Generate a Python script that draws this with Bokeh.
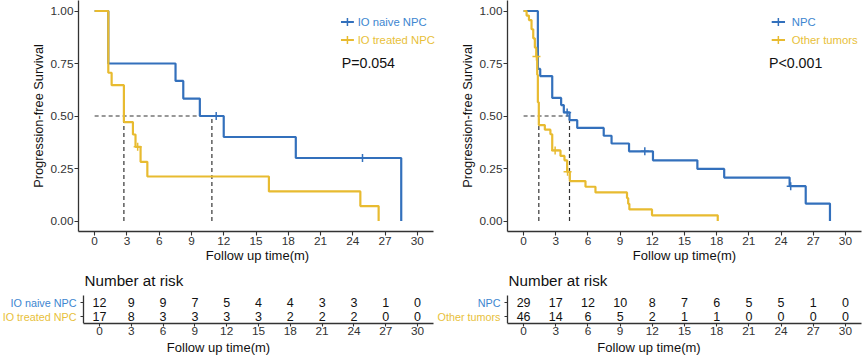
from bokeh.plotting import figure
from bokeh.layouts import row, column
from bokeh.models import FixedTicker, NumeralTickFormatter, Title
from bokeh.embed import file_html
from bokeh.resources import INLINE
from bokeh.core.properties import value

FONT = "Liberation Sans"
BLUE = "#3370BC"
YELLOW = "#E8BB30"
BLUE_TXT = "#3D86D0"
YEL_TXT = "#E8BF3A"
DARK = "#333333"

# ---------------- data ----------------
x_ticks = [0, 3, 6, 9, 12, 15, 18, 21, 24, 27, 30]
y_ticks = [0, 0.25, 0.5, 0.75, 1.0]

# Left panel
naive_label = "IO naive NPC"
naive_t = [0, 1.27, 7.52, 8.24, 9.78, 12.0, 18.7, 28.5]
naive_s = [1.0, 0.75, 0.667, 0.583, 0.5, 0.4, 0.3, 0.0]
naive_cens_t = [11.3, 24.9]
naive_cens_s = [0.5, 0.3]

treated_label = "IO treated NPC"
treated_t = [0, 1.27, 1.58, 2.72, 3.56, 3.80, 4.27, 4.90, 16.2, 24.7, 26.4]
treated_s = [1.0, 0.706, 0.647, 0.471, 0.412, 0.353, 0.282, 0.212, 0.141, 0.071, 0.0]
treated_cens_t = [4.0]
treated_cens_s = [0.353]

left_medians = [2.72, 10.9]
left_p = "P=0.054"
naive_risk = [12, 9, 9, 7, 5, 4, 4, 3, 3, 1, 0]
treated_risk = [17, 8, 3, 3, 3, 3, 2, 2, 2, 0, 0]

# Right panel
npc_label = "NPC"
npc_t = [0, 1.33, 1.55, 2.67, 3.5, 3.75, 4.28, 5.0, 7.47, 8.2, 9.83, 12.06, 16.2, 18.7, 24.8, 26.3, 28.56]
npc_s = [1.0, 0.724, 0.690, 0.586, 0.552, 0.517, 0.480, 0.443, 0.406, 0.369, 0.332, 0.289, 0.248, 0.207, 0.166, 0.083, 0.0]
npc_cens_t = [4.06, 11.3, 24.9]
npc_cens_s = [0.517, 0.332, 0.166]

other_label = "Other tumors"
other_t = [0, 0.28, 0.5, 0.74, 0.9, 1.05, 1.18, 1.27, 1.33, 1.42, 1.98, 2.5, 2.67, 3.44, 3.81, 4.06, 4.31, 5.77, 6.7, 9.64, 9.75, 9.86, 11.97, 18.1]
other_s = [1.0, 0.978, 0.957, 0.913, 0.870, 0.826, 0.783, 0.696, 0.565, 0.457, 0.435, 0.413, 0.336, 0.310, 0.289, 0.234, 0.190, 0.163, 0.136, 0.109, 0.082, 0.055, 0.027, 0.0]
other_cens_t = [1.2, 2.94, 4.1]
other_cens_s = [0.783, 0.336, 0.234]

right_medians = [1.42, 4.28]
right_p = "P<0.001"
npc_risk = [29, 17, 12, 10, 8, 7, 6, 5, 5, 1, 0]
other_risk = [46, 14, 6, 5, 2, 1, 1, 0, 0, 0, 0]

XLAB = "Follow up time(m)"
YLAB = "Progression-free Survival"
RISK_TITLE = "Number at risk"

XLO, XHI = -1.5, 31.5   # axis extent (ggplot expansion)


def style_axis(ax, tick_out, lab_standoff, ax_standoff):
    ax.axis_line_color = DARK
    ax.axis_line_width = 1.3
    ax.major_tick_line_color = DARK
    ax.major_tick_line_width = 1.1
    ax.major_tick_out = tick_out
    ax.major_tick_in = 0
    ax.minor_tick_line_color = None
    ax.major_label_text_font = FONT
    ax.major_label_text_font_size = "11.8px"
    ax.major_label_text_color = DARK
    ax.major_label_standoff = lab_standoff
    ax.axis_label_text_font = FONT
    ax.axis_label_text_font_style = "normal"
    ax.axis_label_text_font_size = "13px"
    ax.axis_label_text_color = "#111111"
    ax.axis_label_standoff = ax_standoff


def clean(p):
    p.xgrid.visible = False
    p.ygrid.visible = False
    p.outline_line_color = None
    p.background_fill_color = "white"
    p.border_fill_color = "white"
    if "frame_align" in p.properties():
        p.frame_align = False


def km_fig(width, bl, br, axis_right_px, curves, medians, ptext, leg_x0, leg_x1, txt_x, p_x):
    # frame spans [bl, width-br]; the axis ends at axis_right_px (inside the frame)
    scale = (axis_right_px - bl) / (XHI - XLO)
    x_end = XHI + (width - br - axis_right_px) / scale
    p = figure(width=width, height=266, x_range=(XLO, x_end), y_range=(-0.05, 1.05),
               output_backend="svg", toolbar_location=None,
               min_border_left=bl, min_border_right=br, min_border_top=0, min_border_bottom=35)
    clean(p)
    style_axis(p.xaxis[0], 4, 1, 0)
    style_axis(p.yaxis[0], 4, 1, 2)
    p.xaxis.bounds = (XLO, XHI)
    p.xaxis.ticker = FixedTicker(ticks=x_ticks)
    p.yaxis.ticker = FixedTicker(ticks=y_ticks)
    p.yaxis.formatter = NumeralTickFormatter(format="0.00")
    p.yaxis.axis_label_text_font_size = "12.8px"
    p.xaxis.axis_label = XLAB
    p.yaxis.axis_label = YLAB

    # median lines
    p.line(x=[0, max(medians)], y=[0.5, 0.5], line_color=DARK, line_dash="4 3", line_width=1.2)
    p.segment(x0=medians, y0=[0] * len(medians), x1=medians, y1=[0.5] * len(medians),
              line_color=DARK, line_dash="4 3", line_width=1.2)

    leg_y = [0.948, 0.862]
    for i, (t, s, ct, cs, col, tcol, lab) in enumerate(curves):
        p.step(x=t, y=s, mode="after", line_color=col, line_width=2.2)
        p.scatter(x=ct, y=cs, marker="cross", size=8, line_color=col, line_width=1.5)
        p.line(x=[leg_x0, leg_x1], y=[leg_y[i]] * 2, line_color=col, line_width=2)
        p.scatter(x=[(leg_x0 + leg_x1) / 2], y=[leg_y[i]], marker="cross", size=8,
                  line_color=col, line_width=1.5)
        p.text(x=[txt_x], y=[leg_y[i]], text=[lab], text_color=tcol, text_font=value(FONT),
               text_font_size="11.3px", text_align="left", text_baseline="middle")
    p.text(x=[p_x], y=[0.754], text=[ptext], text_color="#111111", text_font=value(FONT),
           text_font_size="14.2px", text_align="left", text_baseline="middle")
    return p


def risk_fig(width, br, axis_left_px, axis_right_px, rows):
    # frame spans [0, width-br] horizontally and [0, 57] vertically (top of figure to axis)
    H, frame_h = 90, 57
    scale = (axis_right_px - axis_left_px) / (XHI - XLO)
    x_start = XLO - axis_left_px / scale
    x_end = XHI + (width - br - axis_right_px) / scale
    row_px = 14.0                      # pixels between the two rows
    y_lo = 0.5
    y_hi = y_lo + frame_h / row_px
    r = figure(width=width, height=H, x_range=(x_start, x_end), y_range=(y_lo, y_hi),
               output_backend="svg", toolbar_location=None, y_axis_location=None,
               min_border_left=0, min_border_right=br, min_border_top=0, min_border_bottom=H - frame_h)
    clean(r)
    style_axis(r.xaxis[0], 3, 0, 0)
    r.xaxis.bounds = (XLO, XHI)
    r.xaxis.ticker = FixedTicker(ticks=x_ticks)

    # axis title centred under the axis (not under the wider frame)
    frame_mid = (width - br) / 2
    axis_mid = (axis_left_px + axis_right_px) / 2
    r.add_layout(Title(text=XLAB, align="center", offset=axis_mid - frame_mid, standoff=0,
                       text_font=FONT, text_font_size="13px", text_font_style="normal",
                       text_color="#111111"), "below")

    # y axis line and ticks of the table
    r.segment(x0=[XLO], y0=[0.5], x1=[XLO], y1=[2.5], line_color=DARK, line_width=1.3)
    tick_len = 3 / scale
    r.segment(x0=[XLO - tick_len] * 2, y0=[1, 2], x1=[XLO] * 2, y1=[1, 2],
              line_color=DARK, line_width=1.1)

    r.text(x=[XLO + 0.1], y=[2 + 22 / row_px], text=[RISK_TITLE], text_color="#111111",
           text_font=value(FONT), text_font_size="15.2px", text_align="left", text_baseline="middle")

    lab_x = XLO - 7 / scale
    for yv, counts, lab, tcol in rows:
        r.text(x=x_ticks, y=[yv] * len(x_ticks), text=[str(c) for c in counts],
               text_color="#111111", text_font=value(FONT), text_font_size="12.5px",
               text_align="center", text_baseline="middle")
        r.text(x=[lab_x], y=[yv], text=[lab], text_color=tcol, text_font=value(FONT),
               text_font_size="10.8px", text_align="right", text_baseline="middle")
    return r


LW = 436
RW = 864 - LW
R_OFF = LW   # x of right panel's left edge in the window

km_left = km_fig(LW, 78, 0, 433,
                 [(naive_t, naive_s, naive_cens_t, naive_cens_s, BLUE, BLUE_TXT, naive_label),
                  (treated_t, treated_s, treated_cens_t, treated_cens_s, YELLOW, YEL_TXT, treated_label)],
                 left_medians, left_p, 22.9, 24.1, 24.45, 22.97)
km_right = km_fig(RW, 507 - R_OFF, 3, 861 - R_OFF,
                  [(npc_t, npc_s, npc_cens_t, npc_cens_s, BLUE, BLUE_TXT, npc_label),
                   (other_t, other_s, other_cens_t, other_cens_s, YELLOW, YEL_TXT, other_label)],
                  right_medians, right_p, 23.13, 24.37, 25.0, 22.88)

risk_left = risk_fig(LW, 0, 83, 433, [(2, naive_risk, naive_label, BLUE_TXT),
                                       (1, treated_risk, treated_label, YEL_TXT)])
risk_right = risk_fig(RW, 3, 507 - R_OFF, 861 - R_OFF, [(2, npc_risk, npc_label, BLUE_TXT),
                                                         (1, other_risk, other_label, YEL_TXT)])

layout = row(column(km_left, risk_left), column(km_right, risk_right))
layout.spacing = 0
for c in layout.children:
    c.spacing = 0

open("out.html", "w").write(file_html(layout, INLINE))
